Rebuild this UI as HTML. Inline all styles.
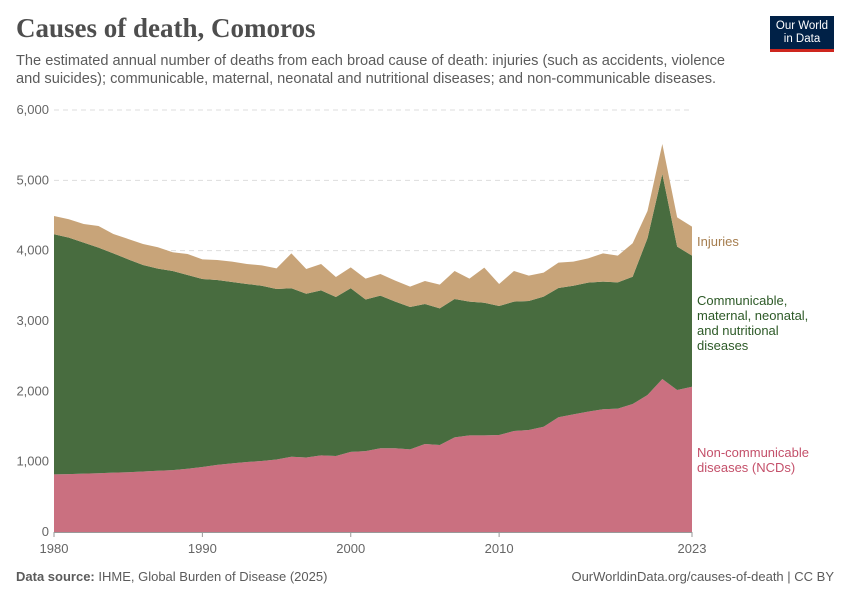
<!DOCTYPE html>
<html><head><meta charset="utf-8">
<style>
body{margin:0;background:#fff;font-family:"Liberation Sans",sans-serif;}
#wrap{position:relative;width:850px;height:600px;overflow:hidden;}
.t{position:absolute;white-space:nowrap;}
</style></head><body>
<div id="wrap">
<div class="t" style="left:16px;top:13px;font-family:'Liberation Serif',serif;font-size:27px;font-weight:bold;color:#4e4e4e;">Causes of death, Comoros</div>
<div class="t" style="left:16px;top:52px;font-size:14.6px;line-height:18px;color:#5b5b5b;">The estimated annual number of deaths from each broad cause of death: injuries (such as accidents, violence<br>and suicides); communicable, maternal, neonatal and nutritional diseases; and non-communicable diseases.</div>
<div style="position:absolute;left:770px;top:16px;width:64px;height:36px;background:#002147;color:#fff;font-size:11.5px;line-height:13px;text-align:center;padding-top:4px;box-sizing:border-box;border-bottom:3px solid #ce261e;">Our World<br>in Data</div>
<svg id="chart" width="850" height="600" style="position:absolute;left:0;top:0"></svg>
<div class="t" style="left:16px;top:569px;font-size:13px;color:#5b5b5b;"><b>Data source:</b> IHME, Global Burden of Disease (2025)</div>
<div class="t" style="right:16px;top:569px;font-size:13px;color:#5b5b5b;">OurWorldinData.org/causes-of-death | CC BY</div>
</div>
<script>
const years=[];for(let y=1980;y<=2023;y++)years.push(y);
const ncd=[820,823,830,835,845,850,860,870,880,900,925,955,975,995,1010,1030,1070,1060,1090,1080,1140,1150,1190,1190,1175,1251,1237,1346,1374,1374,1379,1436,1450,1497,1631,1673,1711,1745,1754,1820,1948,2175,2019,2066];
const communicable=[3413,3362,3285,3208,3117,3027,2936,2874,2831,2754,2672,2628,2580,2531,2492,2425,2395,2328,2346,2261,2325,2155,2170,2085,2024,1991,1943,1967,1901,1886,1834,1839,1834,1849,1838,1829,1834,1815,1796,1810,2228,2915,2038,1863];
const injuries=[260,261,265,308,275,289,299,304,266,299,280,284,289,285,289,294,497,351,375,285,298,297,308,299,289,327,337,398,327,498,313,436,361,341,361,342,346,402,379,475,388,427,417,412];
const yTicks=[0,1000,2000,3000,4000,5000,6000];
const xTicks=[1980,1990,2000,2010,2023];
const NS="http://www.w3.org/2000/svg";
const svg=document.getElementById('chart');
const x0=54,x1=692,yb=532,yt=110;
const X=y=>x0+(y-1980)*(x1-x0)/(2023-1980);
const Y=v=>yb-v*(yb-yt)/6000;
function mk(tag,attrs){const e=document.createElementNS(NS,tag);for(const k in attrs)e.setAttribute(k,attrs[k]);svg.appendChild(e);return e;}
yTicks.forEach(v=>{
  if(v>0){const l=mk('line',{x1:x0,x2:x1,y1:Y(v),y2:Y(v),stroke:'#ddd','stroke-dasharray':'5,4'});
  
  }
  const t=mk('text',{x:49,y:Y(v)+4,'text-anchor':'end','font-size':13,fill:'#666','font-family':'Liberation Sans,sans-serif'});
  t.textContent=v.toLocaleString('en-US');
  
  
});
const lo1=years.map(()=>0),hi1=ncd.slice();
const hi2=hi1.map((v,i)=>v+communicable[i]);
const hi3=hi2.map((v,i)=>v+injuries[i]);
function area(lo,hi,color,name){
  let d='M'+years.map((y,i)=>X(y)+','+Y(hi[i])).join('L');
  for(let i=years.length-1;i>=0;i--)d+='L'+X(years[i])+','+Y(lo[i]);
  const p=mk('path',{d:d+'Z',fill:color});
  
  
}
area(lo1,hi1,'#ca7080','area-ncd');
area(hi1,hi2,'#486c3f','area-communicable');
area(hi2,hi3,'#c8a479','area-injuries');
const ax=mk('line',{x1:x0,x2:x1,y1:yb+0.5,y2:yb+0.5,stroke:'#999'});


xTicks.forEach(y=>{
  const tk=mk('line',{x1:X(y),x2:X(y),y1:yb,y2:yb+5,stroke:'#999'});
  
  
  const t=mk('text',{x:X(y),y:yb+21,'text-anchor':'middle','font-size':13,fill:'#666','font-family':'Liberation Sans,sans-serif'});
  t.textContent=y;
  
  
});
const labels=[{lines:['Injuries'],y:246,c:'#a57d4e',n:'legend-injuries'},
{lines:['Communicable,','maternal, neonatal,','and nutritional','diseases'],y:305,c:'#2d5a27',n:'legend-communicable'},
{lines:['Non-communicable','diseases (NCDs)'],y:457,c:'#c4506a',n:'legend-ncd'}];
labels.forEach(L=>{
  const t=mk('text',{x:697,y:L.y,'font-size':13,fill:L.c,'font-family':'Liberation Sans,sans-serif'});
  L.lines.forEach((s,i)=>{const ts=document.createElementNS(NS,'tspan');ts.setAttribute('x',697);ts.setAttribute('dy',i?15:0);ts.textContent=s;t.appendChild(ts);});
  
  
});
</script>
</body></html>
